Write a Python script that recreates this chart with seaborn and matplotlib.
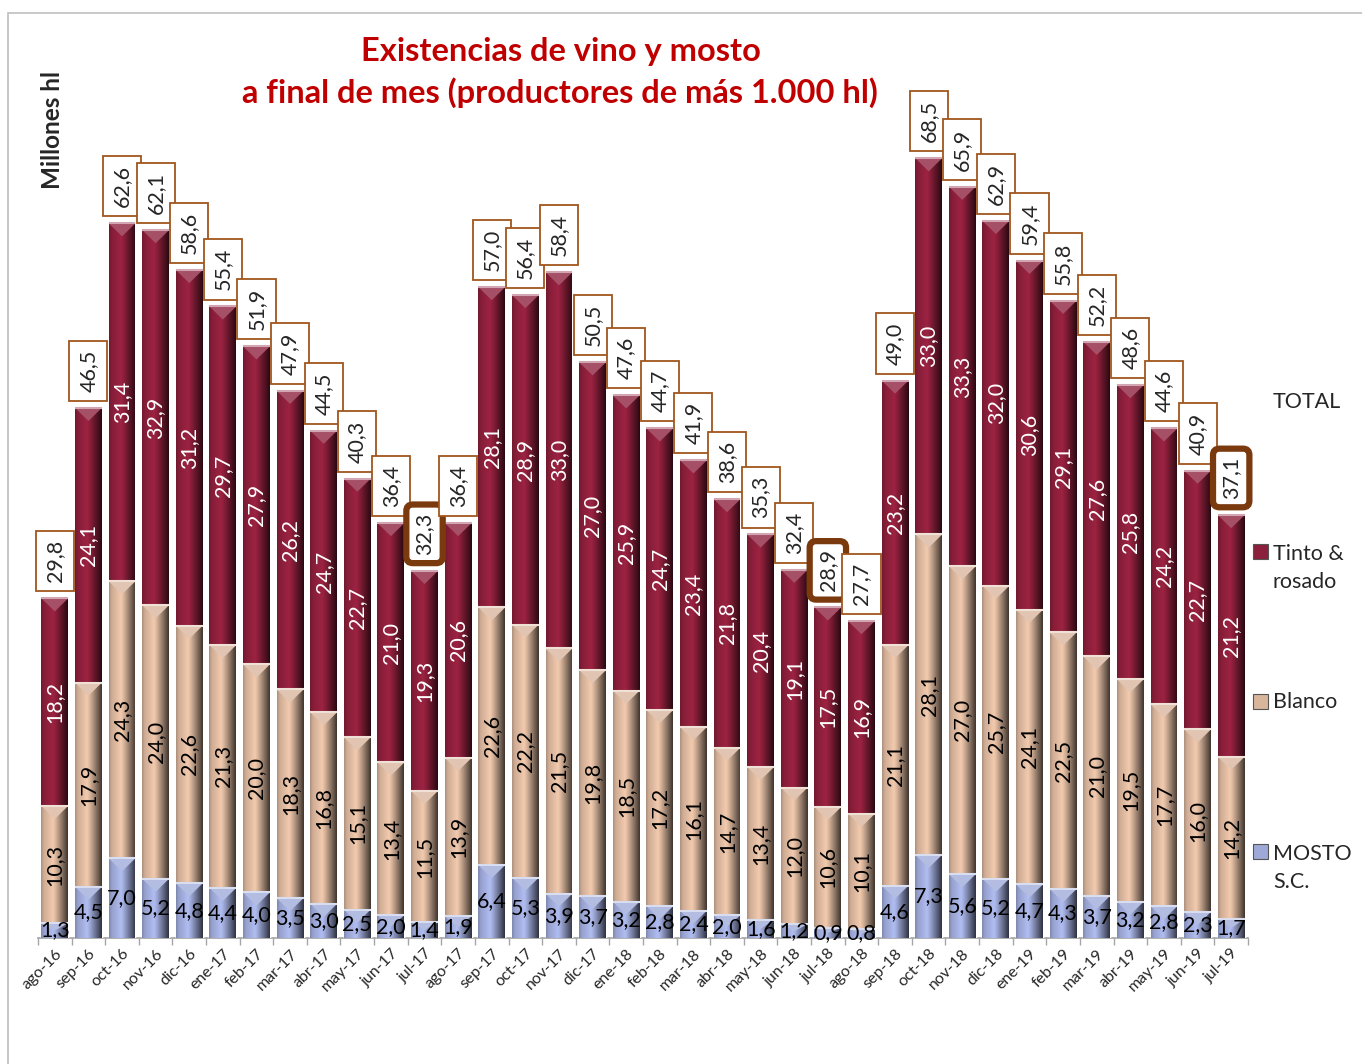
import numpy as np
import pandas as pd
import seaborn as sns
import matplotlib.pyplot as plt
from matplotlib.patches import Rectangle, Polygon
from matplotlib.colors import to_rgb

meses = ['ago-16', 'sep-16', 'oct-16', 'nov-16', 'dic-16', 'ene-17', 'feb-17', 'mar-17',
         'abr-17', 'may-17', 'jun-17', 'jul-17', 'ago-17', 'sep-17', 'oct-17', 'nov-17',
         'dic-17', 'ene-18', 'feb-18', 'mar-18', 'abr-18', 'may-18', 'jun-18', 'jul-18',
         'ago-18', 'sep-18', 'oct-18', 'nov-18', 'dic-18', 'ene-19', 'feb-19', 'mar-19',
         'abr-19', 'may-19', 'jun-19', 'jul-19']
mosto = [1.3, 4.5, 7.0, 5.2, 4.8, 4.4, 4.0, 3.5, 3.0, 2.5, 2.0, 1.4, 1.9, 6.4, 5.3, 3.9,
         3.7, 3.2, 2.8, 2.4, 2.0, 1.6, 1.2, 0.9, 0.8, 4.6, 7.3, 5.6, 5.2, 4.7, 4.3, 3.7,
         3.2, 2.8, 2.3, 1.7]
blanco = [10.3, 17.9, 24.3, 24.0, 22.6, 21.3, 20.0, 18.3, 16.8, 15.1, 13.4, 11.5, 13.9,
          22.6, 22.2, 21.5, 19.8, 18.5, 17.2, 16.1, 14.7, 13.4, 12.0, 10.6, 10.1, 21.1,
          28.1, 27.0, 25.7, 24.1, 22.5, 21.0, 19.5, 17.7, 16.0, 14.2]
tinto = [18.2, 24.1, 31.4, 32.9, 31.2, 29.7, 27.9, 26.2, 24.7, 22.7, 21.0, 19.3, 20.6,
         28.1, 28.9, 33.0, 27.0, 25.9, 24.7, 23.4, 21.8, 20.4, 19.1, 17.5, 16.9, 23.2,
         33.0, 33.3, 32.0, 30.6, 29.1, 27.6, 25.8, 24.2, 22.7, 21.2]
total = [29.8, 46.5, 62.6, 62.1, 58.6, 55.4, 51.9, 47.9, 44.5, 40.3, 36.4, 32.3, 36.4,
         57.0, 56.4, 58.4, 50.5, 47.6, 44.7, 41.9, 38.6, 35.3, 32.4, 28.9, 27.7, 49.0,
         68.5, 65.9, 62.9, 59.4, 55.8, 52.2, 48.6, 44.6, 40.9, 37.1]
destacados = ['jul-17', 'jul-18', 'jul-19']

c_tinto = '#8C1F3B'
c_blanco = '#D9B59C'
c_mosto = '#9EA9D8'

df = pd.DataFrame({'mes': meses, 'mosto': mosto, 'blanco': blanco, 'tinto': tinto, 'total': total})
df['cum_blanco'] = df['mosto'] + df['blanco']
df['cum_tinto'] = df['cum_blanco'] + df['tinto']

sns.set_theme(style='white')
plt.rcParams['font.family'] = ['Lato', 'DejaVu Sans']

fig = plt.figure(figsize=(13.62, 10.64), dpi=100)
ax = fig.add_axes([38 / 1362, 126 / 1064, 1210 / 1362, 855 / 1064])


def fmt(v):
    return f'{v:.1f}'.replace('.', ',')


def sombrear(patch, col, z):
    # degradado horizontal tipo bisel de Excel + triangulo arriba
    x0, y0 = patch.get_x(), patch.get_y()
    w, h = patch.get_width(), patch.get_height()
    base = np.array(to_rgb(col))
    prof = np.interp(np.linspace(0, 1, 60), [0, 0.1, 0.45, 0.55, 0.8, 1.0],
                     [0.8, 0.95, 1.12, 1.0, 0.62, 0.3])
    rgb = np.clip(base[None, None, :] * prof[None, :, None], 0, 1)
    patch.set_zorder(z)
    im = ax.imshow(rgb, extent=[x0, x0 + w, y0, y0 + h], aspect='auto',
                   zorder=z + 0.1, interpolation='bilinear')
    im.set_clip_path(patch.get_path(), patch.get_transform())
    tri = min(1.15, h * 0.5)
    luz = np.clip(base + (1 - base) * 0.22, 0, 1)
    ax.add_patch(Polygon([(x0, y0 + h), (x0 + w, y0 + h), (x0 + w / 2, y0 + h - tri)],
                         closed=True, facecolor=luz, edgecolor='none', zorder=z + 0.2))
    ax.plot([x0, x0 + w], [y0 + h, y0 + h], color=np.clip(base + (1 - base) * 0.6, 0, 1),
            lw=1.5, zorder=z + 0.3, solid_capstyle='butt')


capas = [('cum_tinto', c_tinto), ('cum_blanco', c_blanco), ('mosto', c_mosto)]
for k, (col, color) in enumerate(capas):
    n0 = len(ax.patches)
    sns.barplot(x=df['mes'], y=df[col].values, color=color, saturation=1, width=0.8,
                errorbar=None, ax=ax)
    for p in list(ax.patches[n0:]):
        sombrear(p, color, 2 * k + 1)

for i, r in df.iterrows():
    ax.text(i, r['mosto'] / 2, fmt(r['mosto']), ha='center', va='center',
            fontsize=15.5, color='black', zorder=20)
    ax.text(i, r['mosto'] + r['blanco'] / 2, fmt(r['blanco']), ha='center', va='center',
            rotation=90, fontsize=15.5, color='black', zorder=20)
    ax.text(i, r['cum_blanco'] + r['tinto'] / 2, fmt(r['tinto']), ha='center', va='center',
            rotation=90, fontsize=15.5, color='white', zorder=20)
    if r['mes'] in destacados:
        caja = dict(boxstyle='round,pad=0.38,rounding_size=0.3', fc='white',
                    ec='#7A3A0E', lw=4.5)
    else:
        caja = dict(boxstyle='square,pad=0.42', fc='white', ec='#A0561E', lw=1.3)
    ax.annotate(fmt(r['total']), xy=(i, r['cum_tinto']), xytext=(0, 11.5),
                textcoords='offset points', rotation=90, ha='center', va='bottom',
                fontsize=15.5, bbox=caja, zorder=30)

ax.set_xlim(-0.5, len(meses) - 0.5)
ax.set_ylim(0, 75)
ax.set_xlabel('')
ax.set_ylabel('')
ax.set_yticks([])
ax.set_xticks(range(len(meses)))
ax.set_xticklabels(meses, rotation=45, ha='right', rotation_mode='anchor', fontsize=11.5)
ax.set_xticks(np.arange(-0.5, len(meses), 1), minor=True)
ax.tick_params(axis='x', which='major', length=0, pad=6)
ax.tick_params(axis='x', which='minor', length=5, color='#A6A6A6', direction='out', bottom=True)
for s in ['left', 'top', 'right']:
    ax.spines[s].set_visible(False)
ax.spines['bottom'].set_color('#A6A6A6')

# titulo y eje
fig.text(561 / 1362, 1 - 52 / 1064, 'Existencias de vino y mosto', ha='center', va='center',
         color='#C00000', fontweight='bold', fontsize=23.5)
fig.text(560 / 1362, 1 - 93 / 1064, 'a final de mes (productores de más 1.000 hl)',
         ha='center', va='center', color='#C00000', fontweight='bold', fontsize=23.5)
fig.text(53 / 1362, 1 - 130 / 1064, 'Millones hl', rotation=90, ha='center', va='center',
         fontweight='bold', fontsize=17.5)

# leyenda
fig.text(1273 / 1362, 1 - 402 / 1064, 'TOTAL', va='center', fontsize=15.5)
leyenda = [('Tinto &\nrosado', c_tinto, 552, 568), ('Blanco', c_blanco, 702, 702),
           ('MOSTO\nS.C.', c_mosto, 852, 868)]
for txt, color, ym, yt in leyenda:
    fig.patches.append(Rectangle((1253 / 1362, 1 - (ym + 7) / 1064), 15 / 1362, 15 / 1064,
                                 transform=fig.transFigure, facecolor=color,
                                 edgecolor='#555555', lw=0.8))
    fig.text(1273 / 1362, 1 - yt / 1064, txt, va='center', fontsize=15.5, linespacing=1.5)

# marco del grafico
fig.patches.append(Rectangle((8 / 1362, -0.1), 1.2, 1.1 - 13 / 1064, transform=fig.transFigure,
                             fill=False, edgecolor='#BFBFBF', lw=1.2))

fig.savefig('out.png', dpi=100)
